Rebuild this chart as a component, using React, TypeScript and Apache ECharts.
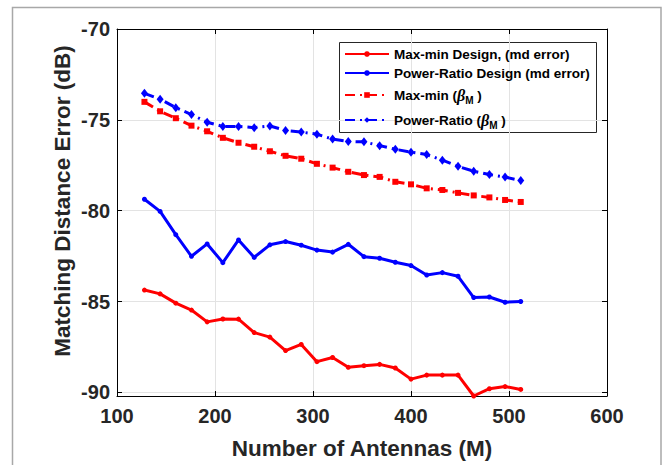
import React, { useEffect, useRef } from "react";
import * as echarts from "echarts";

// Number of antennas M
const antennas = [
  128, 144, 160, 176, 192, 208, 224, 240, 256, 272, 288, 304, 320, 336, 352,
  368, 384, 400, 416, 432, 448, 464, 480, 496, 512,
];

// Matching distance error (dB)
const maxMinDesign = [
  -84.37, -84.58, -85.09, -85.47, -86.12, -85.96, -85.97, -86.71, -86.96,
  -87.7, -87.36, -88.31, -88.08, -88.62, -88.53, -88.46, -88.66, -89.27,
  -89.05, -89.05, -89.05, -90.2, -89.8, -89.68, -89.84,
];
const powerRatioDesign = [
  -79.37, -80.04, -81.32, -82.51, -81.83, -82.86, -81.61, -82.57, -81.88,
  -81.7, -81.9, -82.17, -82.28, -81.85, -82.53, -82.62, -82.84, -83.02,
  -83.54, -83.41, -83.61, -84.78, -84.75, -85.04, -85.0,
];
const maxMinBeta = [
  -74.01, -74.53, -74.91, -75.32, -75.63, -75.99, -76.26, -76.48, -76.73,
  -76.98, -77.14, -77.42, -77.63, -77.86, -78.04, -78.14, -78.41, -78.55,
  -78.77, -78.86, -79.02, -79.16, -79.27, -79.41, -79.52,
];
const powerRatioBeta = [
  -73.54, -73.86, -74.33, -74.71, -75.13, -75.36, -75.36, -75.43, -75.34,
  -75.58, -75.67, -75.79, -76.06, -76.19, -76.21, -76.42, -76.62, -76.78,
  -76.91, -77.22, -77.56, -77.83, -78.01, -78.15, -78.34,
];

const seriesNames = [
  "Max-min Design, (md error)",
  "Power-Ratio Design (md error)",
  "Max-min (βM )",
  "Power-Ratio (βM )",
];

const X_MIN = 100;
const X_MAX = 600;
const X_STEP = 100;
const Y_MIN = -90.2;
const Y_MAX = -70;

const TEXT = "#262626";
const FONT = "'Liberation Sans', Arial, Helvetica, sans-serif";
const RED = "#ff0000";
const BLUE = "#0000ff";
const DASH_DOT = [10, 5, 2, 5];

const pairs = (ys: number[]) => antennas.map((x, i) => [x, ys[i]]);

export default function App() {
  const ref = useRef<HTMLDivElement>(null);

  useEffect(() => {
    if (!ref.current) return;
    const chart = echarts.init(ref.current, undefined, { renderer: "svg" });

    const yLabel = (v: number) =>
      Math.abs(v - Math.round(v)) < 1e-6 && Math.round(v) % 5 === 0
        ? String(Math.round(v))
        : "";

    const grid = { left: 117, top: 29, width: 490, height: 374 };

    chart.setOption({
      animation: false,
      backgroundColor: "#ffffff",
      textStyle: { fontFamily: FONT },
      grid,
      xAxis: [
        {
          type: "value",
          min: X_MIN,
          max: X_MAX,
          interval: X_STEP,
          axisLine: { show: true, onZero: false, lineStyle: { color: "#000", width: 1 } },
          axisTick: { show: true, inside: true, length: 5, lineStyle: { color: "#000" } },
          axisLabel: {
            color: TEXT,
            fontSize: 20,
            fontWeight: "bold",
            fontFamily: FONT,
            margin: 10,
          },
          splitLine: { show: true, lineStyle: { color: "#e3e3e3", width: 1 } },
          name: "Number of Antennas (M)",
          nameLocation: "middle",
          nameGap: 41,
          nameTextStyle: { color: TEXT, fontSize: 22.5, fontWeight: "bold", fontFamily: FONT },
        },
        {
          type: "value",
          position: "top",
          min: X_MIN,
          max: X_MAX,
          interval: X_STEP,
          axisLine: { show: true, onZero: false, lineStyle: { color: "#000", width: 1 } },
          axisTick: { show: true, inside: true, length: 5, lineStyle: { color: "#000" } },
          axisLabel: { show: false },
          splitLine: { show: false },
        },
      ],
      yAxis: [
        {
          type: "value",
          min: Y_MIN,
          max: Y_MAX,
          splitNumber: 4,
          axisLine: { show: true, onZero: false, lineStyle: { color: "#000", width: 1 } },
          axisTick: { show: true, inside: true, length: 5, lineStyle: { color: "#000" } },
          axisLabel: {
            color: TEXT,
            fontSize: 20,
            fontWeight: "bold",
            fontFamily: FONT,
            margin: 7,
            formatter: yLabel,
            showMinLabel: true,
            showMaxLabel: true,
          },
          splitLine: { show: true, lineStyle: { color: "#e3e3e3", width: 1 } },
        },
        {
          type: "value",
          position: "right",
          min: Y_MIN,
          max: Y_MAX,
          splitNumber: 4,
          axisLine: { show: true, onZero: false, lineStyle: { color: "#000", width: 1 } },
          axisTick: { show: true, inside: true, length: 5, lineStyle: { color: "#000" } },
          axisLabel: { show: false },
          splitLine: { show: false },
        },
      ],
      legend: {
        show: true,
        orient: "vertical",
        left: 344,
        top: 47,
        padding: 0,
        itemWidth: 44,
        itemHeight: 7,
        itemGap: 5,
        data: seriesNames,
        textStyle: {
          color: "#000",
          fontSize: 13.5,
          fontWeight: "bold",
          fontFamily: FONT,
          lineHeight: 14,
          rich: {
            b: {
              fontSize: 16,
              fontStyle: "italic",
              fontFamily: "'Liberation Serif', 'DejaVu Serif', serif",
              color: "#000",
              lineHeight: 14,
            },
            s: {
              fontSize: 10,
              fontWeight: "bold",
              color: "#000",
              lineHeight: 14,
              padding: [10, 0, 0, 0],
            },
          },
        },
        formatter: (name: string) => {
          const k = name.indexOf("βM");
          if (k < 0) return name;
          return name.slice(0, k) + "{b|β}{s|M}" + name.slice(k + 2);
        },
      },
      graphic: [
        {
          type: "rect",
          silent: true,
          shape: { x: 12.5, y: 7.5, width: 648.5, height: 500 },
          style: { fill: "none", stroke: "#a8a8a8", lineWidth: 1.5 },
        },
        {
          type: "rect",
          silent: true,
          z: 0,
          shape: { x: 339.5, y: 42.5, width: 257, height: 90 },
          style: { fill: "#ffffff", stroke: "#262626", lineWidth: 1 },
        },
        {
          type: "text",
          silent: true,
          x: 62,
          y: 201,
          rotation: Math.PI / 2,
          style: {
            text: "Matching Distance Error (dB)",
            fill: TEXT,
            font: `bold 22.5px ${FONT}`,
            align: "center",
            verticalAlign: "middle",
          },
        },
      ],
      series: [
        {
          name: seriesNames[0],
          type: "line",
          data: pairs(maxMinDesign),
          symbol: "circle",
          symbolSize: 5,
          itemStyle: { color: RED },
          lineStyle: { color: RED, width: 3 },
        },
        {
          name: seriesNames[1],
          type: "line",
          data: pairs(powerRatioDesign),
          symbol: "circle",
          symbolSize: 5,
          itemStyle: { color: BLUE },
          lineStyle: { color: BLUE, width: 3 },
        },
        {
          name: seriesNames[2],
          type: "line",
          data: pairs(maxMinBeta),
          symbol: "rect",
          symbolSize: 6,
          itemStyle: { color: RED },
          lineStyle: { color: RED, width: 3, type: DASH_DOT },
        },
        {
          name: seriesNames[3],
          type: "line",
          data: pairs(powerRatioBeta),
          symbol: "diamond",
          symbolSize: [7, 9],
          itemStyle: { color: BLUE },
          lineStyle: { color: BLUE, width: 3, type: DASH_DOT },
        },
      ],
    });

    return () => chart.dispose();
  }, []);

  return (
    <div
      ref={ref}
      style={{ position: "fixed", left: 0, top: 0, width: 663, height: 465 }}
    />
  );
}
